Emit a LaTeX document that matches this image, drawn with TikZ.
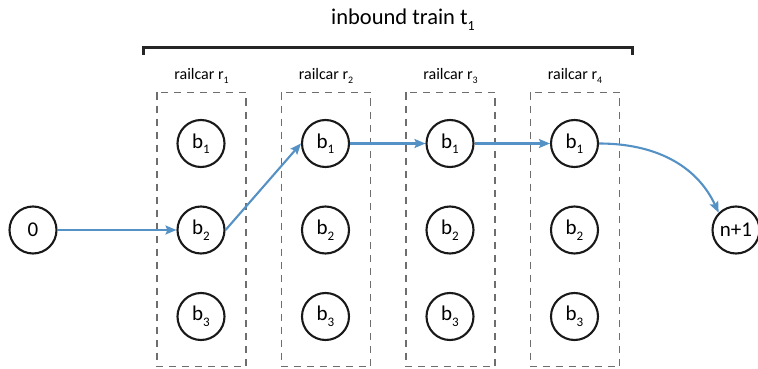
\documentclass[tikz,border=0pt]{standalone}
\usepackage{fontspec}
\setmainfont{Carlito}
\usetikzlibrary{arrows.meta}
\definecolor{arrowblue}{RGB}{84,145,196}
\definecolor{dashgray}{RGB}{110,110,110}
\newcommand{\mysub}[1]{\raisebox{-0.55ex}{\scalebox{0.62}{#1}}}
\begin{document}
\begin{tikzpicture}[x=1pt,y=-1pt,
  blk/.style={circle,draw=black!90,line width=2.1pt,minimum size=47pt,inner sep=0pt,font=\fontsize{21}{24}\selectfont},
  carbox/.style={draw=dashgray,dash pattern=on 7pt off 6pt,line width=1.4pt},
  carlabel/.style={font=\fontsize{16}{18}\selectfont},
  flow/.style={draw=arrowblue,line width=2.1pt,-{Stealth[length=11pt,width=9pt,inset=2pt]}}]
\useasboundingbox (0,0) rectangle (758,369);
% title and bracket
\node[font=\fontsize{22.5}{26}\selectfont] (title) at (403,20) {inbound train t\mysub{1}};
\draw[line width=2.1pt,black!85] (143.5,55) -- (143.5,47.5) -- (632.5,47.5) -- (632.5,55);
% railcar boxes
\foreach \i/\x in {1/157,2/281.5,3/406,4/530.5}{
  \draw[carbox] (\x,92.5) rectangle (\x+89,366.5);
  \node[carlabel] (lab\i) at (\x+44.5,76) {railcar r\mysub{\i}};
  \foreach \j/\y in {1/143.5,2/230,3/316.5}{
    \node[blk] (c\i b\j) at (\x+44,\y) {b\mysub{\j}};
  }
}
\node[blk] (zero) at (33,230) {0};
\node[blk] (last) at (736,230) {n+1};
% arrows
\draw[flow] (zero) -- (c1b2);
\draw[flow] (c1b2.east) -- (c2b1.west);
\draw[flow] (c2b1) -- (c3b1);
\draw[flow] (c3b1) -- (c4b1);
\draw[flow] (c4b1.east) to[out=0,in=115] (last.north west);
\end{tikzpicture}
\end{document}
